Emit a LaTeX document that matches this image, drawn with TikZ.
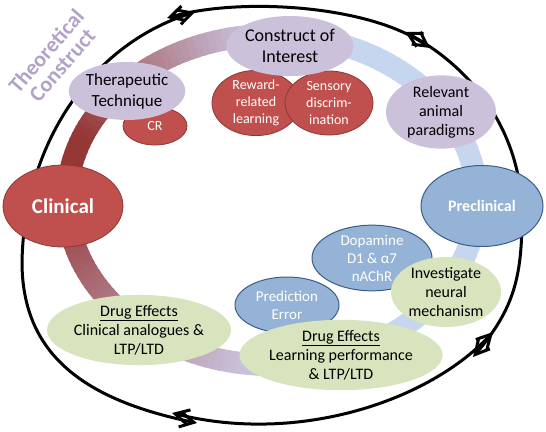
\documentclass[tikz,border=0pt]{standalone}
\usepackage{fontspec}
\setmainfont{Carlito}
\usetikzlibrary{shapes.geometric,arrows.meta}
\definecolor{bubred}{HTML}{C0504D}
\definecolor{bubredline}{HTML}{8C3836}
\definecolor{bubblue}{HTML}{95B3D7}
\definecolor{bubblueline}{HTML}{385D8A}
\definecolor{bublav}{HTML}{CCC1DA}
\definecolor{bubgreen}{HTML}{D7E4BD}
\definecolor{theorytext}{HTML}{B3A2C7}
\definecolor{ringred}{HTML}{953735}
\definecolor{ringlav}{HTML}{C8BED8}
\definecolor{ringblue}{HTML}{C6D6EE}
\tikzset{
    bubble/.style = {ellipse, align=center, inner sep=0pt},
    redbub/.style = {bubble, draw=bubredline, line width=0.8pt, fill=bubred, text=white},
    bluebub/.style = {bubble, draw=bubblueline, line width=1pt, fill=bubblue, text=white},
    lavbub/.style = {bubble, fill=bublav, text=black},
    greenbub/.style = {bubble, fill=bubgreen, text=black},
    ringseg/.style = {line width=22pt},
    cyclearc/.style = {line width=3pt, {Straight Barb[length=14pt,width=15pt]}-{Straight Barb[length=14pt,width=15pt]}},
}

\begin{document}
\begin{tikzpicture}[x=1pt, y=-1pt]
\useasboundingbox (0,0) rectangle (546,431);

% Inner coloured ring (red -> lavender -> blue)
\coordinate (ringc) at (272,200);
\foreach \a in {0,2,...,358}{
    \pgfmathsetmacro\s{\a>=180 ? (\a-180)/180 : (180-\a)/180}
    \pgfmathsetmacro\pone{100*(\a>=180 ? min(max((\s-0.12)/0.33,0),1) : min(max(\s/0.45,0),1))}
    \pgfmathsetmacro\ptwo{100-100*(\a>=180 ? min(max((\s-0.45)/0.15,0),1) : min(max((\s-0.45)/0.12,0),1))}
    \colorlet{segc}{ringlav!\pone!ringred!\ptwo!ringblue}
    \draw[ringseg, draw=segc] (ringc) ++(\a:205 and 165) arc[start angle=\a, end angle=\a+2.6, x radius=205, y radius=165];
}

% Outer cycle of double arrows (ends overlap at each break)
\coordinate (topA) at (167,18);
\coordinate (topB) at (430,48);
\coordinate (rightA) at (405,32);
\coordinate (rightB) at (473,357);
\coordinate (rgt) at (522,215);
\coordinate (botA) at (493,332);
\coordinate (botB) at (172,413);
\coordinate (leftA) at (197,423);
\coordinate (leftB) at (195,12);
\coordinate (lft) at (22,262);
\draw[cyclearc] (topA) .. controls (240,-3) and (370,5) .. (topB);
\draw[cyclearc] (rightA) .. controls (480,72) and (522,140) .. (rgt) .. controls (522,275) and (515,308) .. (rightB);
\draw[cyclearc] (botA) .. controls (430,400) and (300,445) .. (botB);
\draw[cyclearc] (leftA) .. controls (85,400) and (22,355) .. (lft) .. controls (24,145) and (90,45) .. (leftB);

% Main poles
\node[redbub, minimum width=120pt, minimum height=82pt, font=\fontsize{21}{24}\selectfont\bfseries] (clinical) at (63,206) {Clinical};
\node[bluebub, minimum width=122pt, minimum height=81pt, font=\fontsize{16}{19}\selectfont\bfseries] (preclinical) at (482,206) {Preclinical};

% Upper half
\node[redbub, minimum width=64pt, minimum height=38pt, font=\fontsize{14}{17}\selectfont] (cr) at (155,126) {CR};
\node[lavbub, minimum width=114pt, minimum height=58pt, font=\fontsize{17}{21}\selectfont] (therapy) at (127,91) {Therapeutic\\Technique};
\node[redbub, minimum width=88pt, minimum height=64pt, font=\fontsize{14}{17}\selectfont] (reward) at (256,103) {Reward-\\related\\learning};
\node[redbub, minimum width=88pt, minimum height=64pt, font=\fontsize{14}{17}\selectfont] (sensory) at (329,103) {Sensory\\discrim-\\ination};
\node[lavbub, minimum width=110pt, minimum height=60pt, font=\fontsize{18}{21}\selectfont] (construct) at (290,46) {Construct of\\Interest};
\node[lavbub, minimum width=110pt, minimum height=70pt, font=\fontsize{16}{19}\selectfont] (paradigms) at (441,112) {Relevant\\animal\\paradigms};

% Lower half
\node[bluebub, minimum width=120pt, minimum height=58pt, font=\fontsize{15}{18}\selectfont] (dopamine) at (372,258) {Dopamine\\D1 \& α7\\nAChR};
\node[bluebub, minimum width=104pt, minimum height=56pt, font=\fontsize{15}{18}\selectfont] (prediction) at (287,305) {Prediction\\Error};
\node[greenbub, minimum width=110pt, minimum height=70pt, font=\fontsize{16}{19}\selectfont] (mechanism) at (446,292) {Investigate\\neural\\mechanism};
\node[greenbub, minimum width=182pt, minimum height=70pt, font=\fontsize{16}{19}\selectfont] (learning) at (341,355) {\underline{Drug Effects}\\Learning performance\\\& LTP/LTD};
\node[greenbub, minimum width=158pt, minimum height=70pt, font=\fontsize{16}{19}\selectfont] (analogues) at (139,330) {\underline{Drug Effects}\\Clinical analogues \&\\LTP/LTD};

% Corner label
\node[text=theorytext, align=center, rotate=49, font=\fontsize{22}{21}\selectfont\bfseries] (theory) at (54,58) {Theoretical\\Construct};

\end{tikzpicture}
\end{document}
